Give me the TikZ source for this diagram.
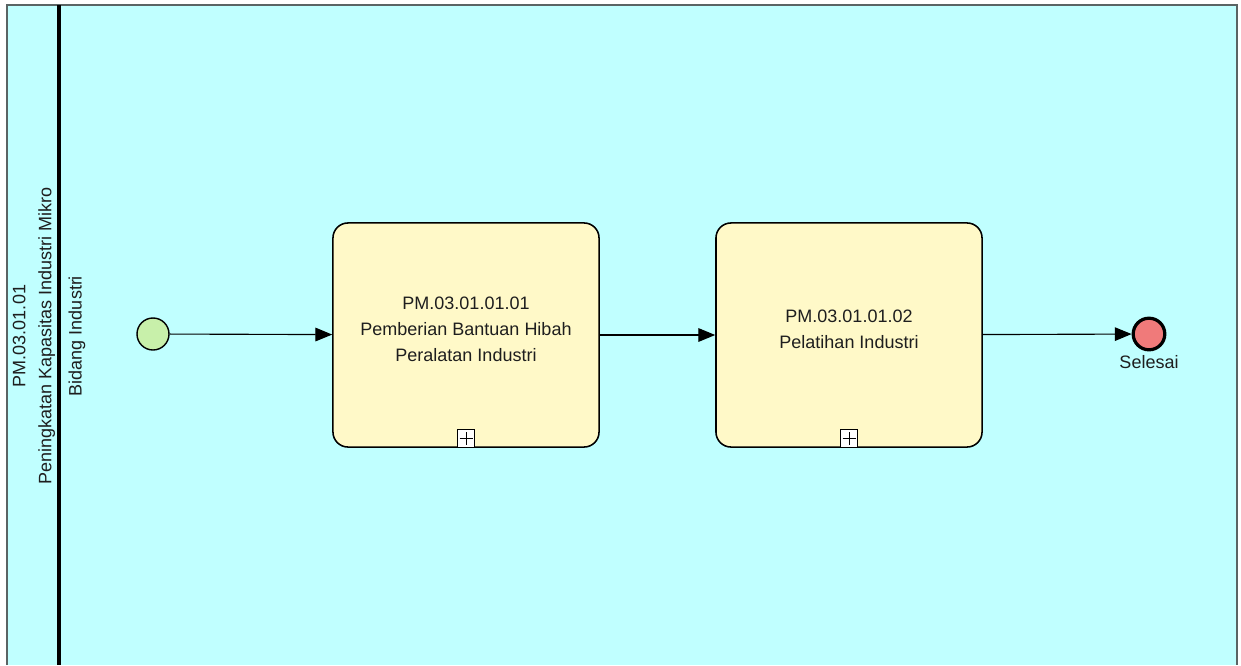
\documentclass[tikz,border=0pt]{standalone}
\usepackage{fontspec}
\setmainfont{Liberation Sans}
\usetikzlibrary{arrows.meta,positioning}
\definecolor{poolbg}{RGB}{192,255,255}
\definecolor{poolline}{RGB}{90,100,100}
\definecolor{taskfill}{RGB}{255,249,200}
\definecolor{startfill}{RGB}{200,240,170}
\definecolor{endfill}{RGB}{240,122,122}
\definecolor{txt}{RGB}{30,30,30}
\tikzset{
  task/.style={draw, line width=1.1pt, rounded corners=0.375cm, fill=taskfill,
    minimum width=6.65cm, minimum height=5.6cm, align=center, inner sep=0pt,
    execute at end node={\rule[-0.28cm]{0pt}{0pt}}},
  startev/.style={draw, circle, line width=1pt, fill=startfill, minimum size=0.8cm, inner sep=0pt},
  endev/.style={draw, circle, line width=2.3pt, fill=endfill, minimum size=0.79cm, inner sep=0pt},
  submark/.style={draw, line width=0.7pt, fill=white, minimum size=0.44cm, inner sep=0pt, anchor=south},
  flow/.style={-{Triangle[length=0.42cm,width=0.34cm]}, line width=0.8pt},
  lanetext/.style={rotate=90, align=center}
}

\begin{document}
\begin{tikzpicture}[x=0.025cm, y=-0.025cm, text=txt,
    every node/.append style={font=\fontsize{12.8}{18.5}\selectfont}]
  \useasboundingbox (0,0) rectangle (1241,665);
  \fill[poolbg] (7,5) rectangle (1237,665);
  \draw[poolline, line width=0.8pt] (7,665) -- (7,5) -- (1237,5) -- (1237,665);
  \draw[line width=2.2pt] (59,5) -- (59,665);

  \node[lanetext] (pool) at (34,336) {PM.03.01.01\\Peningkatan Kapasitas Industri Mikro};
  \node[lanetext] (lane) at (77,336) {Bidang Industri};

  \node[startev] (start) at (153,334) {};
  \node[task] (t1) at (466,335) {PM.03.01.01.01\\Pemberian Bantuan Hibah\\Peralatan Industri};
  \node[task] (t2) at (849,335) {PM.03.01.01.02\\Pelatihan Industri};
  \node[endev] (end) at (1149,334) {};
  \node[below=2pt of end, inner sep=1pt] (endlabel) {Selesai};

  \node[submark] (m1) at (t1.south) {};
  \node[submark] (m2) at (t2.south) {};
  \draw[line width=0.7pt] ([yshift=-0.07cm]m1.north) -- ([yshift=0.07cm]m1.south);
  \draw[line width=0.7pt] ([xshift=0.07cm]m1.west) -- ([xshift=-0.07cm]m1.east);
  \draw[line width=0.7pt] ([yshift=-0.07cm]m2.north) -- ([yshift=0.07cm]m2.south);
  \draw[line width=0.7pt] ([xshift=0.07cm]m2.west) -- ([xshift=-0.07cm]m2.east);

  \draw[flow] (start) -- (t1);
  \draw[flow] (t1) -- (t2);
  \draw[flow] (t2) -- (end);
\end{tikzpicture}
\end{document}
